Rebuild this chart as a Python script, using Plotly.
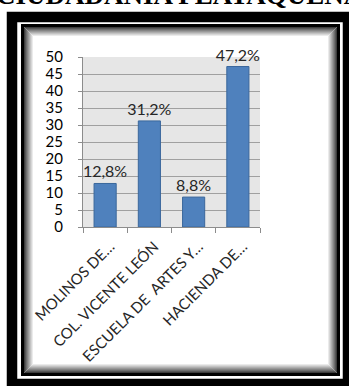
import plotly.graph_objects as go

# ---- data ----
categories = ["MOLINOS DE…", "COL. VICENTE LEÓN", "ESCUELA DE\u00a0 ARTES Y…", "HACIENDA DE…"]
values = [12.8, 31.2, 8.8, 47.2]
value_labels = ["12,8%", "31,2%", "8,8%", "47,2%"]
y_ticks = [0, 5, 10, 15, 20, 25, 30, 35, 40, 45, 50]
title_text = "CIUDADANIA PLATAQUEÑA"

W, H = 349, 386
FONT = "Lato"

def fx(px):
    return px / W

def fy(py):
    return 1 - py / H

fig = go.Figure()
fig.add_trace(go.Bar(
    x=categories,
    y=values,
    text=value_labels,
    textposition="outside",
    textfont=dict(family=FONT, size=16, color="#262626"),
    cliponaxis=False,
    constraintext="none",
    marker=dict(color="#4f81bd", line=dict(color="#3a679c", width=1)),
    width=0.5,
    hoverinfo="skip",
))

shapes = []
# outer thick black frame
shapes.append(dict(type="rect", xref="paper", yref="paper",
                   x0=fx(12), x1=fx(348), y0=fy(17), y1=fy(384),
                   line=dict(color="#000000", width=10.5), fillcolor="rgba(0,0,0,0)"))
# inner thin black line
shapes.append(dict(type="rect", xref="paper", yref="paper",
                   x0=fx(22.5), x1=fx(338.5), y0=fy(25.5), y1=fy(374.5),
                   line=dict(color="#000000", width=3), fillcolor="rgba(0,0,0,0)"))
# inner shadow gradient
n = 10
for i in range(n):
    g = int(60 + (255 - 60) * (i / (n - 1)) ** 0.9)
    shapes.append(dict(type="rect", xref="paper", yref="paper",
                       x0=fx(24.5 + i), x1=fx(336.5 - i),
                       y0=fy(27.5 + i), y1=fy(372.5 - i),
                       line=dict(color=f"rgb({g},{g},{g})", width=1),
                       fillcolor="rgba(0,0,0,0)"))

fig.update_layout(
    width=W, height=H,
    margin=dict(l=0, r=0, t=0, b=0),
    paper_bgcolor="#ffffff",
    plot_bgcolor="#e6e6e6",
    showlegend=False,
    bargap=0.5,
    shapes=shapes,
    font=dict(family=FONT, color="#262626"),
    annotations=[dict(
        text=f"<b>{title_text}</b>", xref="paper", yref="paper",
        x=fx(-6), y=fy(12), xanchor="left", yanchor="bottom",
        showarrow=False,
        font=dict(family="Liberation Serif", size=27, color="#000000"),
    )],
    xaxis=dict(
        domain=[fx(83), fx(260)],
        type="category",
        showline=True, linecolor="#8c8c8c", linewidth=1,
        ticks="outside", tickson="boundaries", ticklen=5, tickcolor="#8c8c8c",
        tickangle=-45,
        tickfont=dict(family=FONT, size=15, color="#262626"),
        ticklabelshift=5,
        ticklabelstandoff=4,
        showgrid=False,
        automargin=False,
        fixedrange=True,
    ),
    yaxis=dict(
        domain=[fy(227), fy(57)],
        range=[0, 50],
        tickvals=y_ticks,
        showgrid=True, gridcolor="#a0a0a0", gridwidth=1,
        showline=True, linecolor="#8c8c8c", linewidth=1,
        ticks="outside", ticklen=4, tickcolor="#8c8c8c",
        tickfont=dict(family=FONT, size=15, color="#000000"),
        ticklabelstandoff=12,
        zeroline=False,
        automargin=False,
        fixedrange=True,
    ),
)

fig.write_html("out.html", config={"displayModeBar": False})
